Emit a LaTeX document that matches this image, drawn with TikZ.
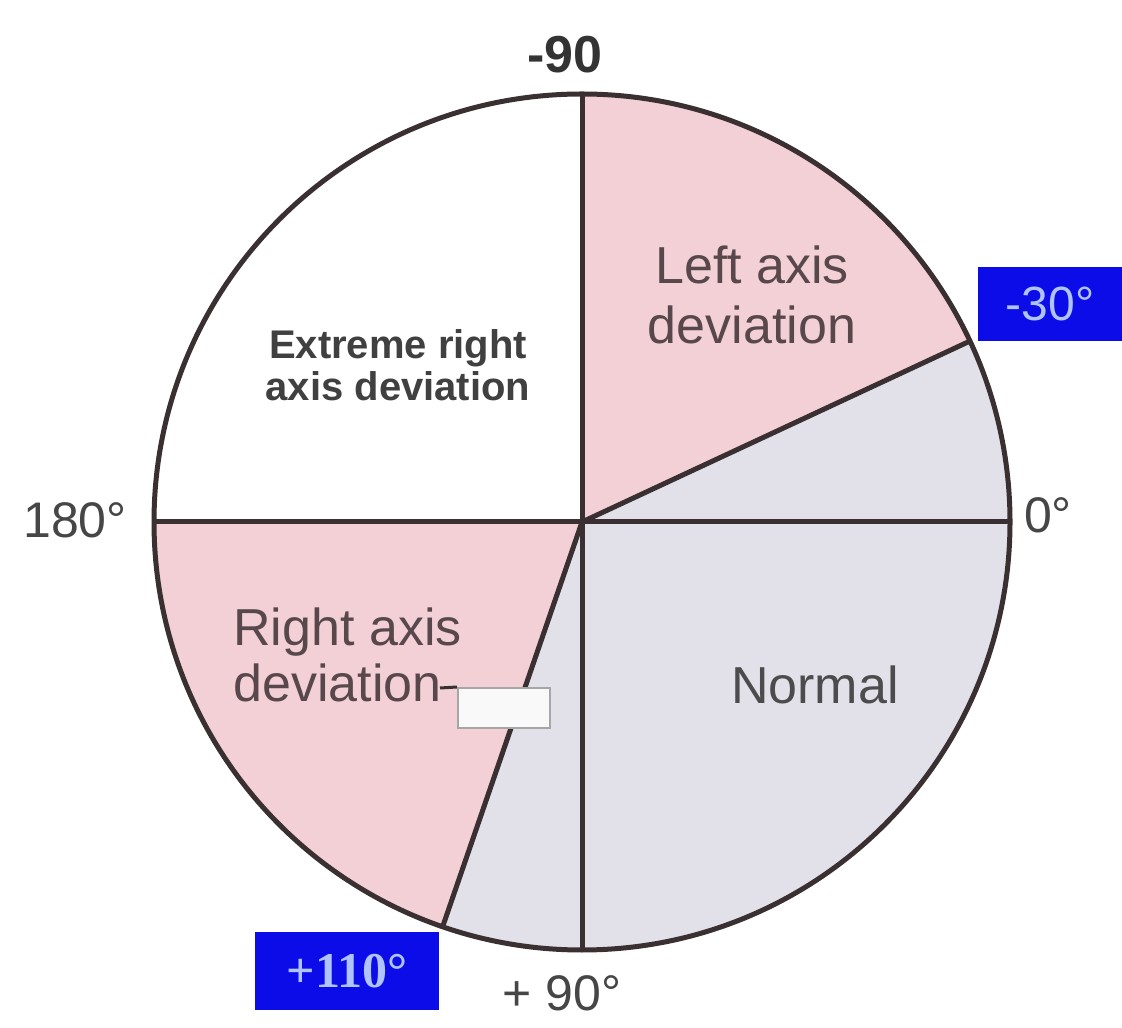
\documentclass[tikz,border=0pt]{standalone}
\usepackage{fontspec}
\usetikzlibrary{calc}
\setmainfont{Liberation Sans}
\newfontfamily\serifbold{Liberation Serif}
\definecolor{pinkfill}{RGB}{242,208,213}
\definecolor{grayfill}{RGB}{226,225,234}
\definecolor{edgecol}{RGB}{58,48,50}
\definecolor{bluebox}{RGB}{12,12,232}
\definecolor{bluetext}{RGB}{175,195,255}
\definecolor{labelgray}{RGB}{70,70,70}
\definecolor{zonetext}{RGB}{88,72,76}
\begin{document}
\begin{tikzpicture}[x=0.5pt,y=0.5pt,
  edgeline/.style={draw=edgecol,line width=2.5pt},
  anglelabel/.style={text=labelgray,font=\fontsize{25}{28}\selectfont,inner sep=0pt},
  zonelabel/.style={text=zonetext,font=\fontsize{26}{28}\selectfont,align=center,inner sep=0pt},
  bluelabel/.style={fill=bluebox,text=bluetext,minimum width=#1,minimum height=37pt,inner sep=0pt},
]
\useasboundingbox (0,0) rectangle (1122,1027);
\fill[white] (0,0) rectangle (1122,1027);
\coordinate (O) at (582,505);
\def\R{428}
% sectors
\fill[pinkfill] (O) -- ++(25:\R) arc[start angle=25,end angle=90,radius=\R] -- cycle;
\fill[grayfill] (O) -- ++(-90:\R) arc[start angle=-90,end angle=25,radius=\R] -- cycle;
\fill[grayfill] (O) -- ++(-109:\R) arc[start angle=-109,end angle=-90,radius=\R] -- cycle;
\fill[pinkfill] (O) -- ++(180:\R) arc[start angle=180,end angle=251,radius=\R] -- cycle;
% boundary lines
\coordinate (top) at ($(O)+(90:\R)$);
\coordinate (bot) at ($(O)+(-90:\R)$);
\coordinate (lft) at ($(O)+(180:\R)$);
\coordinate (rgt) at ($(O)+(0:\R)$);
\coordinate (m30) at ($(O)+(25:\R)$);
\coordinate (p110) at ($(O)+(-109:\R)$);
\draw[edgeline] (top) -- (bot);
\draw[edgeline] (lft) -- (rgt);
\draw[edgeline] (O) -- (m30);
\draw[edgeline] (O) -- (p110);
\draw[edgeline] (O) circle[radius=\R];
% angle labels
\node[anglelabel,font=\bfseries\fontsize{26}{28}\selectfont,text=black!80] (n90) at (565,972) {-90};
\node[anglelabel] (n180) at (75,507) {180°};
\node[anglelabel] (n0) at (1048,512) {0°};
\node[anglelabel] (p90) at (562,34) {+ 90°};
\node[bluelabel=72pt,font=\fontsize{24}{26}\selectfont] (b30) at (1050,723) {-30°};
\node[bluelabel=92pt,font=\serifbold\bfseries\fontsize{25}{27}\selectfont,minimum height=39pt] (b110) at (347,56) {+110°};
% zone labels
\node[zonelabel] (lad) at (752,732) {Left axis\\[2pt]deviation};
\node[zonelabel,font=\bfseries\fontsize{20}{21}\selectfont,text=black!75] (erad) at (398,662) {Extreme right\\axis deviation};
\node[zonelabel,align=left,anchor=west] (rad) at (233,372) {Right axis\\deviation};
\node[zonelabel,text=black!70] (nor) at (815,342) {Normal};
% small tag box
\node[draw=gray!70,fill=white!95!gray,line width=1pt,minimum width=46pt,minimum height=20pt,inner sep=0pt] (tag) at (504,319) {};
\coordinate (tagstart) at (440,339);
\draw[draw=edgecol,line width=1.5pt] (tagstart) -- (tag.north west);
\end{tikzpicture}
\end{document}
